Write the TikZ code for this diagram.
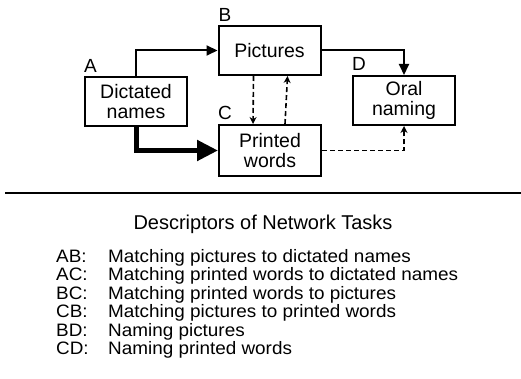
\documentclass[tikz,border=0pt]{standalone}
\usepackage{fontspec}
\setmainfont{Liberation Sans}
\newfontfamily\listfont[FakeStretch=1.05]{Liberation Sans}
\usetikzlibrary{arrows.meta}
\begin{document}
\begin{tikzpicture}[x=1pt,y=-1pt,
  box/.style={draw, line width=2pt, minimum width=102pt, minimum height=49pt,
    align=center, inner sep=0pt, font=\fontsize{19.5}{19.5}\selectfont},
  lab/.style={inner sep=0pt, anchor=base west, font=\fontsize{19}{19}\selectfont},
  solidarrow/.style={line width=2pt, -{Triangle[length=11pt,width=10pt]}},
  bigarrow/.style={line width=5pt, -{Triangle[length=21pt,width=20pt]}},
  dasharrow/.style={line width=1.6pt, dash pattern=on 5pt off 3pt,
    -{Stealth[length=7pt,width=7pt]}},
  listtext/.style={inner sep=0pt, anchor=base west, font=\listfont\fontsize{18}{18}\selectfont},
  ]
\useasboundingbox (0,0) rectangle (521,379);
% boxes
\node[box] (A) at (136,101.5) {Dictated\\names};
\node[box] (B) at (269.5,50.5) {Pictures};
\node[box, minimum height=51pt] (C) at (270,150.5) {Printed\\words};
\node[box] (D) at (404,100.5) {Oral\\naming};
% labels
\node[lab] (la) at ([yshift=3pt]A.north west) {A};
\node[lab] (lb) at ([xshift=1pt,yshift=3pt]B.north west) {B};
\node[lab] (lc) at ([yshift=4pt]C.north west) {C};
\node[lab] (ld) at ([yshift=4pt]D.north west) {D};
% connectors
\draw[solidarrow] (A.north) |- (B.west);
\draw[solidarrow] (B.east) -| (D.north);
\draw[bigarrow] (A.south) |- (C.west);
\draw[dasharrow] ([xshift=-16pt]B.south) -- ([xshift=-17pt]C.north);
\draw[dasharrow] ([xshift=15pt]C.north) -- ([xshift=18pt]B.south);
\draw[dasharrow] (C.east) -| (D.south);
% rule
\draw[line width=2.6pt] (5,193) -- (521,193);
% title
\node[inner sep=0pt, anchor=base, font=\fontsize{20}{24}\selectfont] (title) at (263,229) {Descriptors of Network Tasks};
% list
\node[listtext] (k1) at (56,262) {AB:};
\node[listtext] (t1) at (108,262) {Matching pictures to dictated names};
\node[listtext] (k2) at (56,280.5) {AC:};
\node[listtext] (t2) at (108,280.5) {Matching printed words to dictated names};
\node[listtext] (k3) at (56,299) {BC:};
\node[listtext] (t3) at (108,299) {Matching printed words to pictures};
\node[listtext] (k4) at (56,317.5) {CB:};
\node[listtext] (t4) at (108,317.5) {Matching pictures to printed words};
\node[listtext] (k5) at (56,336) {BD:};
\node[listtext] (t5) at (108,336) {Naming pictures};
\node[listtext] (k6) at (56,354.5) {CD:};
\node[listtext] (t6) at (108,354.5) {Naming printed words};
\end{tikzpicture}
\end{document}
